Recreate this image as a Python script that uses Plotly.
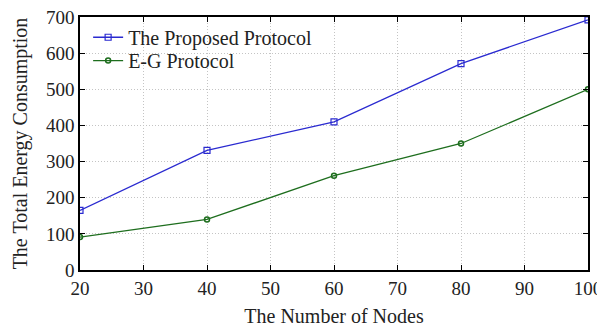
import plotly.graph_objects as go

nodes = [20, 40, 60, 80, 100]
proposed = [165, 331, 410, 571, 692]
eg = [91, 140, 261, 350, 500]
x_ticks = [20, 30, 40, 50, 60, 70, 80, 90, 100]
y_ticks = [0, 100, 200, 300, 400, 500, 600, 700]

fig = go.Figure()
fig.add_trace(go.Scatter(
    x=nodes, y=proposed, mode="lines+markers", name="The Proposed Protocol",
    line=dict(color="#2a2ad0", width=1.3), legend="legend",
    marker=dict(symbol="square-open", size=6, color="#2a2ad0", line=dict(width=1.2))
))
fig.add_trace(go.Scatter(
    x=nodes, y=eg, mode="lines+markers", name="E-G Protocol",
    line=dict(color="#1e6e1e", width=1.3), legend="legend2",
    marker=dict(symbol="circle-open", size=5, color="#1e6e1e", line=dict(width=1.5))
))

axis_common = dict(
    showline=True, linecolor="black", linewidth=1.5, mirror="ticks",
    ticks="inside", ticklen=5, tickcolor="black",
    showgrid=True, gridcolor="#c4c4c4", griddash="1px,2px", gridwidth=1,
    zeroline=False, automargin=False, ticklabeloverflow="allow",
    tickfont=dict(family="Liberation Serif", size=19, color="#222"),
)

legend_common = dict(xanchor="left", yanchor="top", bgcolor="rgba(255,255,255,0)",
                     font=dict(family="Liberation Serif", size=20, color="#222"),
                     itemwidth=30)

fig.update_layout(
    width=605, height=326,
    margin=dict(l=72, r=25, t=9, b=64),
    paper_bgcolor="white", plot_bgcolor="white",
    showlegend=True,
    legend=dict(x=0.016, y=0.997, **legend_common),
    legend2=dict(x=0.016, y=0.905, **legend_common),
)
fig.update_xaxes(range=[20, 100], tickvals=x_ticks, title_text="The Number of Nodes",
                 title_standoff=11,
                 title_font=dict(family="Liberation Serif", size=20, color="#222"),
                 **axis_common)
fig.update_yaxes(range=[0, 700], tickvals=y_ticks, title_text="The Total Energy Consumption",
                 title_standoff=13,
                 title_font=dict(family="Liberation Serif", size=20, color="#222"),
                 **axis_common)

fig.write_html("out.html")
